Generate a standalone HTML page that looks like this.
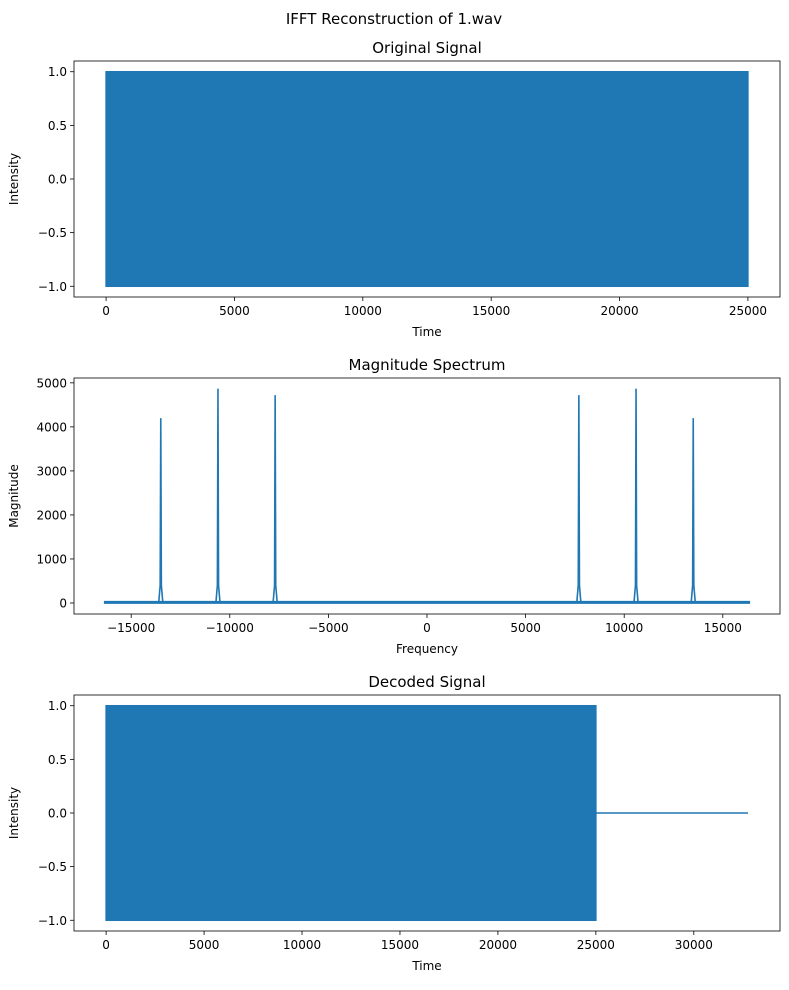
<!DOCTYPE html>
<html><head><meta charset="utf-8"><style>
body{margin:0;background:#fff;}
svg text{font-family:"DejaVu Sans","Liberation Sans",sans-serif;fill:#000;}
</style></head><body>
<svg id="fig" width="789" height="985" xmlns="http://www.w3.org/2000/svg">
<text x="394" y="24" font-size="15" text-anchor="middle">IFFT Reconstruction of 1.wav</text>
</svg>
<script>
// Data
const origExtent = [0, 25000];
const origAmp = [-1, 1];
const decodedExtent = [0, 25000];
const decodedTotal = 32767;
const decodedAmp = [-1, 1];
const peakFreqs = [-13500, -10600, -7700, 7700, 10600, 13500];
const peakMags = [4200, 4870, 4720, 4720, 4870, 4200];
const specRange = [-16384, 16383];
const xTicks1 = [0, 5000, 10000, 15000, 20000, 25000];
const yTicksSig = [-1.0, -0.5, 0.0, 0.5, 1.0];
const xTicks2 = [-15000, -10000, -5000, 0, 5000, 10000, 15000];
const yTicks2 = [0, 1000, 2000, 3000, 4000, 5000];
const xTicks3 = [0, 5000, 10000, 15000, 20000, 25000, 30000];

const NS = "http://www.w3.org/2000/svg";
const svg = document.getElementById('fig');
const C = '#1f77b4';
function el(tag, attrs, parent){const e=document.createElementNS(NS,tag);for(const k in attrs)e.setAttribute(k,attrs[k]);(parent||svg).appendChild(e);return e;}
function fmtSig(v){return v.toFixed(1).replace('-','\u2212');}
function fmtInt(v){return String(v).replace('-','\u2212');}

function axes(name, box, xd, yd, xt, yt, fx, fy, title, xl, yl){
  const g = el('g',{});
  
  
  const sx = v => box.l + (v - xd[0])/(xd[1]-xd[0])*(box.r-box.l);
  const sy = v => box.b - (v - yd[0])/(yd[1]-yd[0])*(box.b-box.t);
  xt.forEach(v=>{
    const x=sx(v);
    el('line',{x1:x,x2:x,y1:box.b,y2:box.b+4,stroke:'#000','stroke-width':0.8},g);
    const t=el('text',{x:x,y:box.b+18,'font-size':12,'text-anchor':'middle'},g);t.textContent=fx(v);
    
    
  });
  yt.forEach(v=>{
    const y=sy(v);
    el('line',{x1:box.l-4,x2:box.l,y1:y,y2:y,stroke:'#000','stroke-width':0.8},g);
    const t=el('text',{x:box.l-7,y:y+4.5,'font-size':12,'text-anchor':'end'},g);t.textContent=fy(v);
    
    
  });
  const tt=el('text',{x:(box.l+box.r)/2,y:box.t-8,'font-size':15,'text-anchor':'middle'},g);tt.textContent=title;
  
  
  const xt2=el('text',{x:(box.l+box.r)/2,y:box.b+39,'font-size':12,'text-anchor':'middle'},g);xt2.textContent=xl;
  
  
  const cy=(box.t+box.b)/2;
  const yt2=el('text',{x:0,y:0,'font-size':12,'text-anchor':'middle',transform:`translate(${box.l-56},${cy}) rotate(-90)`},g);yt2.textContent=yl;
  
  
  return {g,sx,sy,box};
}
function frame(a){el('rect',{x:a.box.l,y:a.box.t,width:a.box.r-a.box.l,height:a.box.b-a.box.t,fill:'none',stroke:'#000','stroke-width':0.8},a.g);}

// Plot 1
const a1 = axes('original-signal-axes',{l:74,r:780,t:61,b:297},[-1250,26250],[-1.1,1.1],xTicks1,yTicksSig,fmtInt,fmtSig,'Original Signal','Time','Intensity');
const r1 = el('rect',{x:a1.sx(origExtent[0]),y:a1.sy(origAmp[1]),width:a1.sx(origExtent[1])-a1.sx(origExtent[0]),height:a1.sy(origAmp[0])-a1.sy(origAmp[1]),fill:C,stroke:C,'stroke-width':1.5},a1.g);


frame(a1);

// Plot 2
const a2 = axes('magnitude-spectrum-axes',{l:74,r:780,t:378,b:614},[-17900,17900],[-250,5110],xTicks2,yTicks2,fmtInt,fmtInt,'Magnitude Spectrum','Frequency','Magnitude');
const base = el('line',{x1:a2.sx(specRange[0]),x2:a2.sx(specRange[1]),y1:a2.sy(15),y2:a2.sy(15),stroke:C,'stroke-width':3},a2.g);


peakFreqs.forEach((f,i)=>{
  const x=a2.sx(f);
  const p=el('path',{d:`M${x-2},${a2.sy(20)} L${x-0.6},${a2.sy(400)} L${x},${a2.sy(peakMags[i])} L${x+0.6},${a2.sy(400)} L${x+2},${a2.sy(20)}`,fill:'none',stroke:C,'stroke-width':1.6},a2.g);
  
  
});
frame(a2);

// Plot 3
const a3 = axes('decoded-signal-axes',{l:74,r:780,t:695,b:931},[-1640,34400],[-1.1,1.1],xTicks3,yTicksSig,fmtInt,fmtSig,'Decoded Signal','Time','Intensity');
const r3 = el('rect',{x:a3.sx(decodedExtent[0]),y:a3.sy(decodedAmp[1]),width:a3.sx(decodedExtent[1])-a3.sx(decodedExtent[0]),height:a3.sy(decodedAmp[0])-a3.sy(decodedAmp[1]),fill:C,stroke:C,'stroke-width':1.5},a3.g);


const tail = el('line',{x1:a3.sx(decodedExtent[1]),x2:a3.sx(decodedTotal),y1:a3.sy(0),y2:a3.sy(0),stroke:C,'stroke-width':1.5},a3.g);


frame(a3);
</script>
</body></html>
